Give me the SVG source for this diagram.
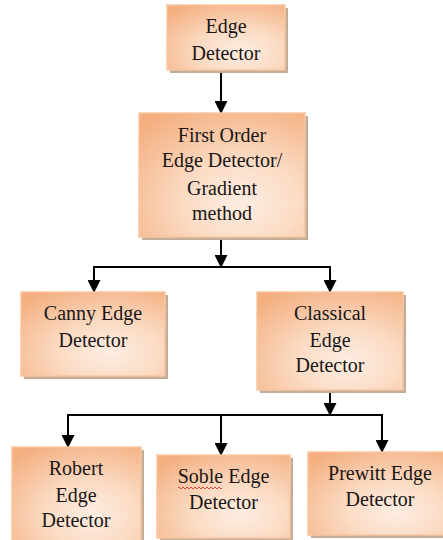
<svg xmlns="http://www.w3.org/2000/svg" width="443" height="540" viewBox="0 0 443 540">
<defs>
<radialGradient id="g" cx="0.62" cy="0.72" r="0.85" fx="0.62" fy="0.72">
<stop offset="0" stop-color="#fdede2"/>
<stop offset="0.4" stop-color="#fbdcc5"/>
<stop offset="1" stop-color="#f4af80"/>
</radialGradient>
<marker id="ah" markerUnits="userSpaceOnUse" markerWidth="14" markerHeight="13" refX="13" refY="7" orient="auto" viewBox="0 0 14 14">
<path d="M0,0 L14,7 L0,14 Z" fill="#000"/>
</marker>
</defs>
<style>
.box{fill:url(#g);stroke:#f9c6a0;stroke-width:1.5}
.sh{fill:#c2ad99}
.t{font-family:"Liberation Serif","Times New Roman",serif;font-size:20px;fill:#1a1616;text-anchor:middle}
.c{stroke:#000;stroke-width:2;fill:none}
</style>
<rect width="443" height="540" fill="#fff"/>
<g id="connectors">
<line class="c" x1="221" y1="70" x2="221" y2="113" marker-end="url(#ah)"/>
<line class="c" x1="221" y1="237" x2="221" y2="267" marker-end="url(#ah)"/>
<line class="c" x1="93" y1="267" x2="331" y2="267"/>
<line class="c" x1="94" y1="267" x2="94" y2="292" marker-end="url(#ah)"/>
<line class="c" x1="330" y1="267" x2="330" y2="292" marker-end="url(#ah)"/>
<line class="c" x1="330" y1="390" x2="330" y2="415" marker-end="url(#ah)"/>
<line class="c" x1="67" y1="415" x2="383" y2="415"/>
<line class="c" x1="68" y1="415" x2="68" y2="447" marker-end="url(#ah)"/>
<line class="c" x1="221" y1="415" x2="221" y2="455" marker-end="url(#ah)"/>
<line class="c" x1="382" y1="415" x2="382" y2="452" marker-end="url(#ah)"/>
</g>
<g id="edge-detector">
<rect class="sh" x="170" y="8" width="118" height="65"/>
<rect class="box" x="167" y="5" width="118" height="65"/>
<text class="t" x="226" y="33">Edge</text>
<text class="t" x="226" y="60">Detector</text>
</g>
<g id="first-order">
<rect class="sh" x="142" y="116" width="166" height="124"/>
<rect class="box" x="139" y="113" width="166" height="124"/>
<text class="t" x="222" y="142">First Order</text>
<text class="t" x="222" y="167">Edge Detector/</text>
<text class="t" x="222" y="195">Gradient</text>
<text class="t" x="222" y="220">method</text>
</g>
<g id="canny">
<rect class="sh" x="24" y="295" width="144" height="84"/>
<rect class="box" x="21" y="292" width="144" height="84"/>
<text class="t" x="93" y="320">Canny Edge</text>
<text class="t" x="93" y="347">Detector</text>
</g>
<g id="classical">
<rect class="sh" x="260" y="295" width="146" height="98"/>
<rect class="box" x="257" y="292" width="146" height="98"/>
<text class="t" x="330" y="320">Classical</text>
<text class="t" x="330" y="347">Edge</text>
<text class="t" x="330" y="372">Detector</text>
</g>
<g id="robert">
<rect class="sh" x="15" y="450" width="129" height="95"/>
<rect class="box" x="12" y="447" width="129" height="95"/>
<text class="t" x="76" y="475">Robert</text>
<text class="t" x="76" y="502">Edge</text>
<text class="t" x="76" y="527">Detector</text>
</g>
<g id="soble">
<rect class="sh" x="160" y="458" width="133" height="85"/>
<rect class="box" x="157" y="455" width="133" height="83"/>
<text class="t" x="223.5" y="483">Soble Edge</text>
<text class="t" x="223.5" y="509">Detector</text>
<path d="M178,488 q1,-2 2,0 t2,0 t2,0 t2,0 t2,0 t2,0 t2,0 t2,0 t2,0 t2,0 t2,0 t2,0 t2,0 t2,0 t2,0 t2,0 t2,0 t2,0 t2,0 t2,0 t2,0 t2,0" fill="none" stroke="#e02020" stroke-width="0.8"/>
</g>
<g id="prewitt">
<rect class="sh" x="311" y="455" width="142" height="83"/>
<rect class="box" x="308" y="452" width="142" height="83"/>
<text class="t" x="380" y="480">Prewitt Edge</text>
<text class="t" x="380" y="506">Detector</text>
</g>
</svg>
